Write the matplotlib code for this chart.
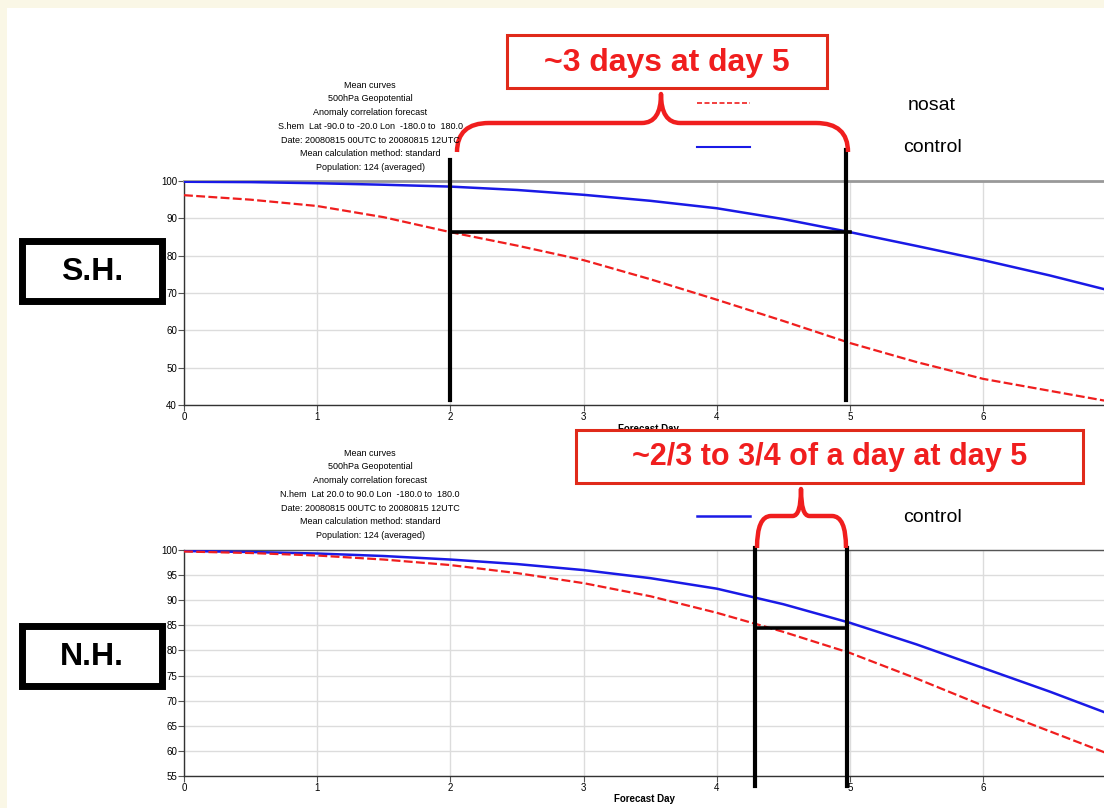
"""Anomaly correlation of 500hPa geopotential: control vs. no-satellite run."""

import matplotlib.pyplot as plt
from matplotlib.patches import PathPatch, Rectangle
from matplotlib.path import Path

plt.rcParams["font.family"] = ["Liberation Sans", "DejaVu Sans"]

DAYS = [0, 0.5, 1, 1.5, 2, 2.5, 3, 3.5, 4, 4.5, 5, 5.5, 6, 6.5, 7]

SH_CONTROL = [99.8, 99.7, 99.4, 99.0, 98.5, 97.6, 96.3, 94.7, 92.7, 89.8, 86.3, 82.6, 78.8, 74.7, 70.2]
SH_NOSAT = [96.2, 95.0, 93.3, 90.3, 86.3, 82.7, 78.8, 73.7, 68.2, 62.5, 56.6, 51.5, 47.0, 43.8, 40.6]

NH_CONTROL = [99.8, 99.6, 99.3, 98.8, 98.1, 97.2, 96.0, 94.4, 92.3, 89.2, 85.5, 81.2, 76.5, 71.8, 66.8]
NH_NOSAT = [99.7, 99.4, 98.9, 98.1, 97.0, 95.4, 93.4, 90.8, 87.5, 83.7, 79.5, 74.4, 69.0, 63.9, 58.8]

SH_TICKS = [40, 50, 60, 70, 80, 90, 100]
NH_TICKS = [55, 60, 65, 70, 75, 80, 85, 90, 95, 100]
DAY_TICKS = [0, 1, 2, 3, 4, 5, 6]

# gain in forecast day at the day-5 skill level
SH_GAIN_START = 2.0
NH_GAIN_START = 4.29
NH_GAIN_LEVEL = 84.5

SH_TITLE = [
    "Mean curves",
    "500hPa Geopotential",
    "Anomaly correlation forecast",
    "S.hem  Lat -90.0 to -20.0 Lon  -180.0 to  180.0",
    "Date: 20080815 00UTC to 20080815 12UTC",
    "Mean calculation method: standard",
    "Population: 124 (averaged)",
]
NH_TITLE = [
    "Mean curves",
    "500hPa Geopotential",
    "Anomaly correlation forecast",
    "N.hem  Lat 20.0 to 90.0 Lon  -180.0 to  180.0",
    "Date: 20080815 00UTC to 20080815 12UTC",
    "Mean calculation method: standard",
    "Population: 124 (averaged)",
]

BLUE = "#1a1ae6"
RED = "#f01e1e"
BOX_RED = "#e02a1a"
W, H = 1104, 808


def _fig_rect(left, top, bottom):
    """Axes rectangle from pixel edges (right edge runs off the figure)."""
    return [left / W, 1 - bottom / H, 1 - left / W, (bottom - top) / H]


def _skill_axes(fig, rect, ticks, control, nosat):
    ax = fig.add_axes(rect)
    ax.plot(DAYS, control, color=BLUE, lw=1.8, zorder=3)
    ax.plot(DAYS, nosat, color=RED, lw=1.6, dashes=(4, 1.5), zorder=3)
    ax.set_xlim(0, 920 / 133.2)
    ax.set_ylim(ticks[0], ticks[-1])
    ax.set_xticks(DAY_TICKS)
    ax.set_yticks(ticks)
    ax.tick_params(labelsize=7, length=4, width=0.8, color="#555555", pad=1)
    ax.grid(color="#dcdcdc", lw=1)
    for side in ("left", "bottom"):
        ax.spines[side].set_color("#333333")
        ax.spines[side].set_linewidth(1)
    ax.spines["right"].set_visible(False)
    ax.spines["top"].set_color("#999999")
    ax.spines["top"].set_linewidth(2)
    return ax


def _brace(ov, x0, x1, xm, y_end, y_bar, y_peak, r):
    """Curly bracket opening downwards, drawn in pixel coordinates."""
    verts = [
        (x0, y_end), (x0, y_bar), (x0 + r, y_bar),
        (xm - r * 0.6, y_bar),
        (xm, y_bar), (xm, y_peak),
        (xm, y_bar), (xm + r * 0.6, y_bar),
        (x1 - r, y_bar),
        (x1, y_bar), (x1, y_end),
    ]
    codes = [
        Path.MOVETO, Path.CURVE3, Path.CURVE3,
        Path.LINETO,
        Path.CURVE3, Path.CURVE3,
        Path.CURVE3, Path.CURVE3,
        Path.LINETO,
        Path.CURVE3, Path.CURVE3,
    ]
    ov.add_patch(PathPatch(Path(verts, codes), fill=False, ec=RED, lw=3.2,
                           capstyle="butt", joinstyle="round"))


def _red_box(ov, x0, y0, x1, y1, text, size):
    ov.add_patch(Rectangle((x0, y0), x1 - x0, y1 - y0, fc="white", ec=BOX_RED, lw=2.2, zorder=5))
    ov.text((x0 + x1) / 2, (y0 + y1) / 2 + 1, text, color=RED, fontsize=size,
            fontweight="bold", ha="center", va="center", zorder=6)


def _label_box(ov, y0, text):
    ov.add_patch(Rectangle((22, y0), 140, 60, fc="white", ec="black", lw=5, zorder=5))
    ov.text(92, y0 + 31, text, fontsize=23, fontweight="bold", ha="center", va="center", zorder=6)


def draw_chart():
    fig = plt.figure(figsize=(W / 100, H / 100), dpi=100)
    fig.patch.set_facecolor("white")

    ax_sh = _skill_axes(fig, _fig_rect(184, 181, 405), SH_TICKS, SH_CONTROL, SH_NOSAT)
    ax_nh = _skill_axes(fig, _fig_rect(184, 550, 776), NH_TICKS, NH_CONTROL, NH_NOSAT)
    ax_nh.spines["top"].set_color("#555555")
    ax_nh.spines["top"].set_linewidth(1)
    ax_sh.set_xlabel("Forecast Day", fontsize=7, fontweight="bold")
    ax_nh.set_xlabel("Forecast Day", fontsize=7, fontweight="bold", labelpad=1)
    ax_sh.xaxis.set_label_coords(0.505, -0.083)

    # day-5 control skill and the nosat day reaching it
    sh_level = SH_CONTROL[DAYS.index(5)]
    ax_sh.plot([SH_GAIN_START, 5], [sh_level, sh_level], color="black", lw=2.6, zorder=4)
    ax_sh.plot([SH_GAIN_START, SH_GAIN_START], [41.3, 105.6], color="black", lw=3, clip_on=False, zorder=4)
    ax_sh.plot([4.97, 4.97], [41.3, 108.3], color="black", lw=3, clip_on=False, zorder=4)

    ax_nh.plot([NH_GAIN_START, 4.98], [NH_GAIN_LEVEL, NH_GAIN_LEVEL], color="black", lw=2.6, zorder=4)
    for x in (NH_GAIN_START, 4.98):
        ax_nh.plot([x, x], [53.0, 100.4], color="black", lw=3, clip_on=False, zorder=4)

    ov = fig.add_axes([0, 0, 1, 1], zorder=10)
    ov.set_xlim(0, W)
    ov.set_ylim(H, 0)
    ov.axis("off")
    ov.patch.set_alpha(0)

    # slide margin
    ov.add_patch(Rectangle((0, 0), W, 8, fc="#faf7e6", ec="none"))
    ov.add_patch(Rectangle((0, 0), 7, H, fc="#faf7e6", ec="none"))

    for title, y0 in ((SH_TITLE, 85), (NH_TITLE, 453)):
        for i, line in enumerate(title):
            ov.text(370, y0 + i * 13.8, line, fontsize=6.5, ha="center", va="center")

    ov.plot([697, 750], [103, 103], color=RED, lw=1.2, dashes=(3, 1.5))
    ov.plot([697, 750], [147, 147], color=BLUE, lw=1.5)
    ov.plot([697, 750], [516, 516], color=BLUE, lw=1.8)
    ov.text(932, 105, "nosat", fontsize=14, ha="center", va="center")
    ov.text(932, 148, "control", fontsize=14, ha="center", va="center")
    ov.text(932, 517, "control", fontsize=14, ha="center", va="center")

    _brace(ov, 457, 848, 661, 152, 123, 94, 32)
    _brace(ov, 757, 846, 801, 548, 516, 489, 14)

    _red_box(ov, 507, 35, 827, 88, "~3 days at day 5", 23)
    _red_box(ov, 576, 430, 1083, 483, "~2/3 to 3/4 of a day at day 5", 22)

    _label_box(ov, 241, "S.H.")
    _label_box(ov, 626, "N.H.")

    fig.savefig("out.png", dpi=100)
    plt.close(fig)


if __name__ == "__main__":
    draw_chart()
